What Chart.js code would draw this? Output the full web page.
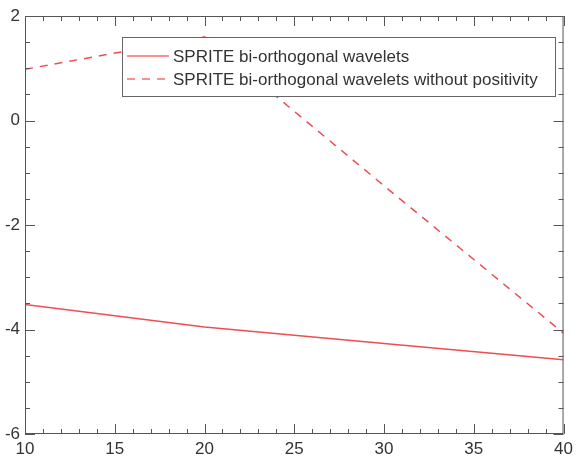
<!DOCTYPE html>
<html>
<head>
<meta charset="utf-8">
<script src="https://cdn.jsdelivr.net/npm/chart.js@4"></script>
<style>
  html, body { margin: 0; padding: 0; background: #fff; }
  #wrap { width: 578px; height: 465px; }
</style>
</head>
<body>
<div id="wrap"><canvas id="chart"></canvas></div>
<script>
const xValues = [10, 20, 30, 40];
const withPositivity = [-3.52, -3.95, -4.27, -4.58];
const withoutPositivity = [0.98, 1.6, -1.25, -4.07];
const seriesLabels = ['SPRITE bi-orthogonal wavelets', 'SPRITE bi-orthogonal wavelets without positivity'];
const xTicks = [10, 15, 20, 25, 30, 35, 40];
const yTicks = [-6, -4, -2, 0, 2];

const lineColor = 'rgb(238, 78, 82)';
const frameColor = '#555';
const textColor = '#333';
const fontFamily = '"Liberation Sans", Arial, sans-serif';

function points(ys) {
    return xValues.map((x, i) => ({ x: x, y: ys[i] }));
}

// frame, inward ticks on all four sides, and the legend inside the plot
const framePlugin = {
    id: 'frame',
    afterDraw(chart) {
        const ctx = chart.ctx;
        const a = chart.chartArea;
        const xs = chart.scales.x, ys = chart.scales.y;
        ctx.save();
        ctx.strokeStyle = frameColor;
        ctx.lineWidth = 1;
        ctx.strokeRect(a.left + 0.5, a.top + 0.5, a.right - a.left - 1, a.bottom - a.top - 1);

        ctx.beginPath();
        for (let v = 10; v <= 40; v += 1) {
            const px = Math.round(xs.getPixelForValue(v)) + 0.5;
            const len = (v % 5 === 0) ? 10 : 5;
            ctx.moveTo(px, a.bottom); ctx.lineTo(px, a.bottom - len);
            ctx.moveTo(px, a.top); ctx.lineTo(px, a.top + len);
        }
        for (let v = -6; v <= 2; v += 0.5) {
            const py = Math.round(ys.getPixelForValue(v)) + 0.5;
            const len = (v % 2 === 0) ? 10 : 5;
            ctx.moveTo(a.left, py); ctx.lineTo(a.left + len, py);
            ctx.moveTo(a.right, py); ctx.lineTo(a.right - len, py);
        }
        ctx.stroke();

        // legend box
        const bx = 122, by = 37, bw = 433, bh = 59;
        ctx.fillStyle = '#fff';
        ctx.fillRect(bx, by, bw, bh);
        ctx.strokeStyle = '#666';
        ctx.strokeRect(bx + 0.5, by + 0.5, bw, bh);
        ctx.font = '17px ' + fontFamily;
        ctx.textBaseline = 'middle';
        chart.data.datasets.forEach((ds, i) => {
            const ry = by + 19 + i * 23;
            ctx.strokeStyle = 'rgb(248, 110, 112)';
            ctx.lineWidth = 1.5;
            ctx.setLineDash(ds.borderDash || []);
            ctx.beginPath();
            ctx.moveTo(bx + 5, ry); ctx.lineTo(bx + 47, ry);
            ctx.stroke();
            ctx.setLineDash([]);
            ctx.fillStyle = textColor;
            ctx.fillText(ds.label, bx + 51, ry + 1);
        });
        ctx.restore();
    }
};

new Chart(document.getElementById('chart'), {
    type: 'line',
    data: {
        datasets: [
            { label: seriesLabels[0], data: points(withPositivity), borderColor: lineColor, borderWidth: 1.5, fill: false },
            { label: seriesLabels[1], data: points(withoutPositivity), borderColor: lineColor, borderWidth: 1.5, borderDash: [8, 7], fill: false }
        ]
    },
    options: {
        animation: false,
        responsive: true,
        maintainAspectRatio: false,
        layout: { padding: { top: 16, right: 10, left: 0, bottom: 0 } },
        plugins: { legend: { display: false }, tooltip: { enabled: false } },
        elements: { point: { radius: 0 }, line: { tension: 0 } },
        scales: {
            x: {
                type: 'linear', min: 10, max: 40,
                afterBuildTicks: s => { s.ticks = xTicks.map(v => ({ value: v })); },
                afterFit: s => { s.height = 31; },
                grid: { display: false, drawTicks: false },
                border: { display: false },
                ticks: { color: textColor, font: { size: 17, family: fontFamily }, padding: 5, maxRotation: 0 }
            },
            y: {
                min: -6, max: 2,
                afterBuildTicks: s => { s.ticks = yTicks.map(v => ({ value: v })); },
                afterFit: s => { s.width = 25; },
                grid: { display: false, drawTicks: false },
                border: { display: false },
                ticks: { color: textColor, font: { size: 17, family: fontFamily }, padding: 5 }
            }
        }
    },
    plugins: [framePlugin]
});
</script>
</body>
</html>
